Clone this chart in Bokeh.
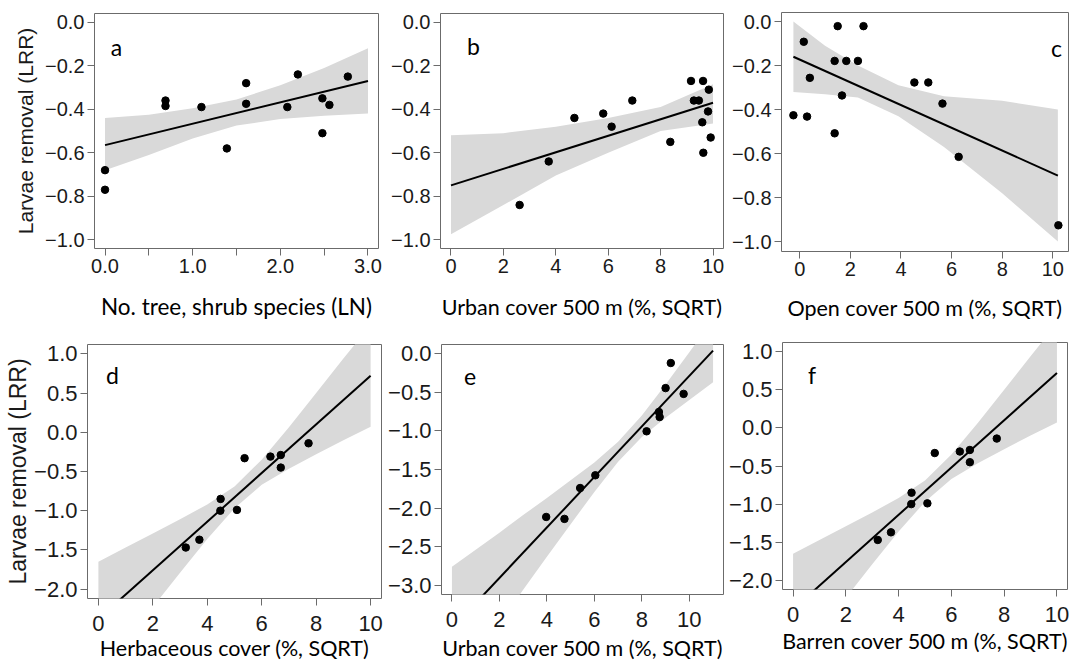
from bokeh.plotting import figure
from bokeh.layouts import column, row
from bokeh.models import FixedTicker, CustomJSTickFormatter, Range1d
from bokeh.core.properties import value
from bokeh.embed import file_html
from bokeh.resources import INLINE

# ---------------- data ----------------
# panel a: No. tree, shrub species (LN)
a_x = [0.0, 0.0, 0.69, 0.69, 1.10, 1.39, 1.61, 1.61, 2.08, 2.20, 2.48, 2.48, 2.56, 2.77]
a_y = [-0.68, -0.77, -0.36, -0.385, -0.39, -0.58, -0.28, -0.375, -0.39, -0.24, -0.35, -0.51, -0.38, -0.25]
a_fit_x = [0.0, 3.0]
a_fit_y = [-0.565, -0.27]
a_band_x = [0.0, 0.5, 1.0, 1.5, 2.0, 2.5, 3.0]
a_band_hi = [-0.44, -0.425, -0.395, -0.355, -0.29, -0.21, -0.12]
a_band_lo = [-0.68, -0.61, -0.535, -0.475, -0.445, -0.43, -0.42]

# panel b: Urban cover 500 m
b_x = [2.62, 3.73, 4.71, 5.81, 6.13, 6.92, 8.37, 9.16, 9.62, 9.27, 9.46, 9.84, 9.81, 9.59, 9.91, 9.63]
b_y = [-0.84, -0.64, -0.44, -0.42, -0.48, -0.36, -0.55, -0.27, -0.27, -0.36, -0.36, -0.31, -0.41, -0.46, -0.53, -0.60]
b_fit_x = [0.0, 10.0]
b_fit_y = [-0.75, -0.37]
b_band_x = [0.0, 2.0, 4.0, 6.0, 8.0, 10.0]
b_band_hi = [-0.52, -0.51, -0.48, -0.44, -0.39, -0.285]
b_band_lo = [-0.975, -0.84, -0.705, -0.60, -0.50, -0.465]

# panel c: Open cover 500 m
c_x = [-0.25, 0.16, 0.29, 0.40, 1.50, 1.38, 1.38, 1.67, 1.84, 2.30, 2.52, 4.53, 5.08, 5.64, 6.28, 10.22]
c_y = [-0.426, -0.092, -0.432, -0.256, -0.021, -0.179, -0.508, -0.336, -0.179, -0.179, -0.021, -0.277, -0.277, -0.373, -0.615, -0.926]
c_fit_x = [-0.25, 10.2]
c_fit_y = [-0.16, -0.70]
c_band_x = [-0.25, 1.0, 2.3, 3.9, 5.7, 8.0, 10.2]
c_band_hi = [0.0, -0.11, -0.20, -0.29, -0.34, -0.36, -0.40]
c_band_lo = [-0.32, -0.33, -0.345, -0.43, -0.57, -0.78, -1.0]

# panel d: Herbaceous cover
d_x = [3.21, 3.71, 4.48, 4.49, 5.09, 5.37, 6.32, 6.70, 6.70, 7.72]
d_y = [-1.47, -1.37, -1.00, -0.85, -0.99, -0.33, -0.31, -0.29, -0.45, -0.14]
d_fit_x = [0.0, 10.0]
d_fit_y = [-2.38, 0.72]
d_band_x = [0, 1, 2, 3, 4, 5, 6, 7, 8, 9, 10]
d_band_hi = [-1.65, -1.47, -1.29, -1.11, -0.92, -0.69, -0.35, 0.065, 0.50, 0.94, 1.37]
d_band_lo = [-3.11, -2.67, -2.23, -1.79, -1.36, -0.97, -0.67, -0.465, -0.28, -0.10, 0.07]

# panel e: Urban cover 500 m
e_x = [3.97, 4.74, 5.40, 6.04, 8.20, 8.72, 8.75, 9.00, 9.22, 9.76]
e_y = [-2.115, -2.14, -1.74, -1.575, -1.005, -0.755, -0.82, -0.445, -0.12, -0.52]
e_fit_x = [0.0, 11.0]
e_fit_y = [-3.56, 0.04]
e_band_x = [0, 1, 2, 3, 4, 5, 6, 7, 8, 9, 10, 11]
e_band_hi = [-2.76, -2.54, -2.32, -2.09, -1.87, -1.64, -1.41, -1.14, -0.80, -0.40, 0.02, 0.44]
e_band_lo = [-4.36, -3.93, -3.50, -3.06, -2.63, -2.21, -1.79, -1.40, -1.08, -0.83, -0.60, -0.37]

# panel f: Barren cover 500 m
f_x = [3.21, 3.71, 4.48, 4.49, 5.09, 5.37, 6.32, 6.70, 6.70, 7.72]
f_y = [-1.47, -1.37, -1.00, -0.85, -0.99, -0.33, -0.31, -0.29, -0.45, -0.14]
f_fit_x = [0.0, 10.0]
f_fit_y = [-2.38, 0.72]
f_band_x = [0, 1, 2, 3, 4, 5, 6, 7, 8, 9, 10]
f_band_hi = [-1.65, -1.47, -1.29, -1.11, -0.92, -0.69, -0.35, 0.065, 0.50, 0.94, 1.37]
f_band_lo = [-3.11, -2.67, -2.23, -1.79, -1.36, -0.97, -0.67, -0.465, -0.28, -0.10, 0.07]

# ticks / labels
xt_a = [0.0, 1.0, 2.0, 3.0]
xt_a_minor = [0.5, 1.5, 2.5]
xt_10 = [0, 2, 4, 6, 8, 10]
yt_top = [-1.0, -0.8, -0.6, -0.4, -0.2, 0.0]
yt_d = [-2.0, -1.5, -1.0, -0.5, 0.0, 0.5, 1.0]
yt_e = [-3.0, -2.5, -2.0, -1.5, -1.0, -0.5, 0.0]

y_title = "Larvae removal (LRR)"
x_titles = ["No. tree, shrub species (LN)", "Urban cover 500 m (%, SQRT)",
            "Open cover 500 m (%, SQRT)", "Herbaceous cover (%, SQRT)",
            "Urban cover 500 m (%, SQRT)", "Barren cover 500 m (%, SQRT)"]
letters = ["a", "b", "c", "d", "e", "f"]

BAND = "#d9d9d9"
FRAME = "#6b6b6b"
TICK_FONT = "Liberation Sans"
TITLE_FONT = "Lato"


def fmt(dec):
    return CustomJSTickFormatter(code="return tick.toFixed(%d).replace('-', '\\u2212');" % dec)


def panel(x, y, fx, fy, bx, blo, bhi, xr, yr, xt, yt, xdec, letter, lpos,
          xtitle, ytitle, w, h, bl, br, bt, bb, tfs, lfs, yfs, tstand, xstand, ystand,
          xminor=None):
    p = figure(width=w, height=h, x_range=Range1d(*xr), y_range=Range1d(*yr),
               output_backend="svg", toolbar_location=None,
               min_border_left=bl, min_border_right=br,
               min_border_top=bt, min_border_bottom=bb, frame_align=False)
    p.grid.visible = False
    p.outline_line_color = FRAME
    p.outline_line_width = 1
    p.background_fill_color = "white"
    p.border_fill_color = "white"
    p.varea(x=bx, y1=blo, y2=bhi, fill_color=BAND, fill_alpha=1.0)
    p.line(fx, fy, line_color="black", line_width=2)
    p.scatter(x, y, size=7.5, fill_color="black", line_color="black")
    p.text(x=[lpos[0]], y=[lpos[1]], text=[letter], text_font=value(TITLE_FONT),
           text_font_size="23px", text_align="center", text_baseline="middle",
           text_color="black")
    for ax, ticks, dec, minor in ((p.xaxis[0], xt, xdec, xminor), (p.yaxis[0], yt, 1, None)):
        ax.ticker = FixedTicker(ticks=ticks, minor_ticks=minor or [])
        ax.formatter = fmt(dec)
        ax.axis_line_color = None
        ax.major_tick_line_color = FRAME
        ax.minor_tick_line_color = FRAME
        ax.major_tick_in = 0
        ax.major_tick_out = 7
        ax.minor_tick_in = 0
        ax.minor_tick_out = 7 if minor else 0
        ax.major_label_text_font = TICK_FONT
        ax.major_label_text_font_size = tfs
        ax.major_label_text_color = "#1a1a1a"
        ax.major_label_standoff = 3
    p.xaxis.major_label_standoff = tstand
    p.xaxis.axis_label = xtitle
    p.xaxis.axis_label_text_font = TITLE_FONT
    p.xaxis.axis_label_text_font_style = "normal"
    p.xaxis.axis_label_text_font_size = lfs
    p.xaxis.axis_label_text_color = "black"
    p.xaxis.axis_label_standoff = xstand
    if ytitle:
        p.yaxis.axis_label = ytitle
        p.yaxis.axis_label_text_font = TICK_FONT
        p.yaxis.axis_label_text_font_style = "normal"
        p.yaxis.axis_label_text_font_size = yfs
        p.yaxis.axis_label_text_color = "#1a1a1a"
        p.yaxis.axis_label_standoff = ystand
    return p


pa = panel(a_x, a_y, a_fit_x, a_fit_y, a_band_x, a_band_lo, a_band_hi,
           (-0.12, 3.12), (-1.04, 0.04), xt_a, yt_top, 1, letters[0], (0.13, -0.115),
           x_titles[0], y_title, 388, 328, 94, 10, 13, 80, "20px", "22.5px", "21px", 3, 17, 5,
           xminor=xt_a_minor)
pb = panel(b_x, b_y, b_fit_x, b_fit_y, b_band_x, b_band_lo, b_band_hi,
           (-0.4, 10.4), (-1.04, 0.04), xt_10, yt_top, 0, letters[1], (0.86, -0.11),
           x_titles[1], None, 340, 328, 50, 5, 13, 80, "20px", "21.5px", "21px", 3, 18, 5)
pc = panel(c_x, c_y, c_fit_x, c_fit_y, c_band_x, c_band_lo, c_band_hi,
           (-0.72, 10.62), (-1.045, 0.041), xt_10, yt_top, 0, letters[2], (10.15, -0.12),
           x_titles[2], None, 344, 328, 53, 4, 12, 77, "20px", "21.5px", "21px", 3, 16, 5)
pd_ = panel(d_x, d_y, d_fit_x, d_fit_y, d_band_x, d_band_lo, d_band_hi,
            (-0.4, 10.4), (-2.12, 1.12), xt_10, yt_d, 0, letters[3], (0.52, 0.73),
            x_titles[3], y_title, 385, 335, 87, 4, 16, 64, "22px", "21.5px", "23px", 10, 1, 0)
pe = panel(e_x, e_y, e_fit_x, e_fit_y, e_band_x, e_band_lo, e_band_hi,
           (-0.44, 11.44), (-3.12, 0.12), xt_10, yt_e, 0, letters[4], (0.76, -0.30),
           x_titles[4], None, 341, 335, 52, 3, 16, 68, "22px", "21.5px", "23px", 10, 5, 0)
pf = panel(f_x, f_y, f_fit_x, f_fit_y, f_band_x, f_band_lo, f_band_hi,
           (-0.4, 10.4), (-2.12, 1.12), xt_10, yt_d, 0, letters[5], (0.72, 0.70),
           x_titles[5], None, 346, 335, 46, 5, 14, 74, "22px", "21.5px", "23px", 10, 3, 0)

layout = column(row(pa, pb, pc), row(pd_, pe, pf))
open("out.html", "w").write(file_html(layout, INLINE))
